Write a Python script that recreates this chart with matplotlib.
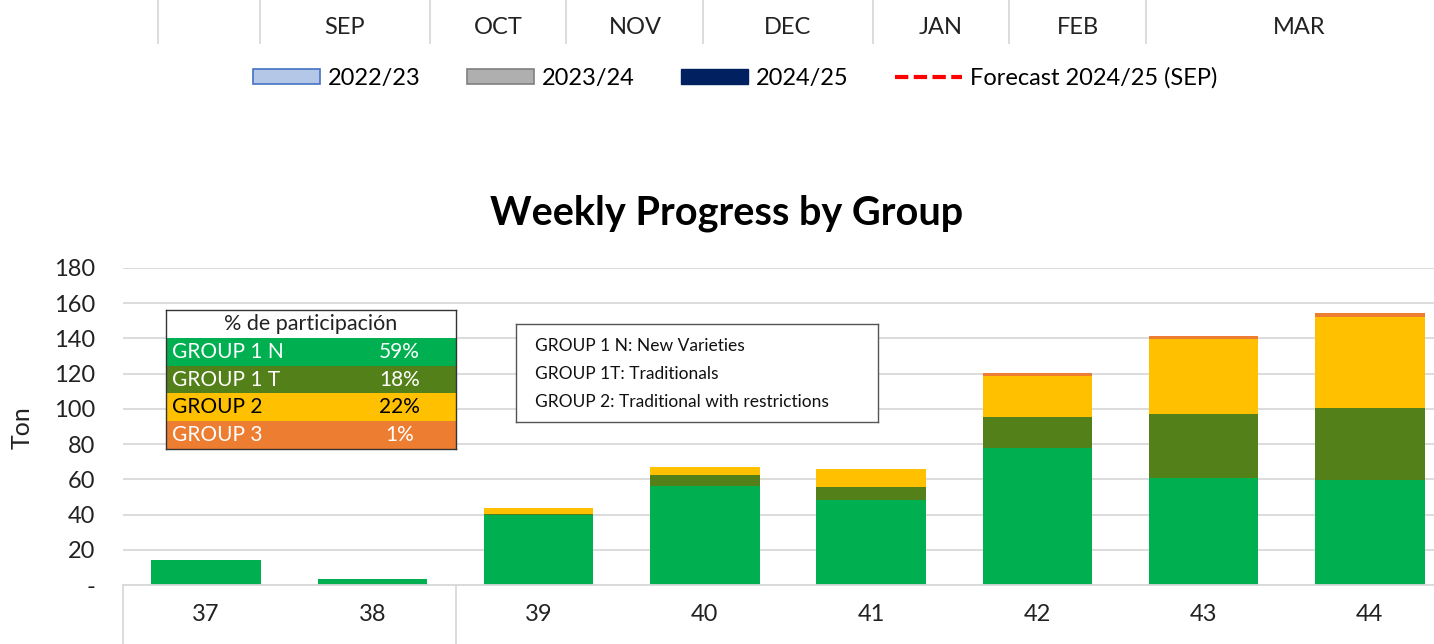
import numpy as np
import matplotlib
matplotlib.use("Agg")
from matplotlib import pyplot as plt
from matplotlib.patches import Patch, Rectangle
from matplotlib.lines import Line2D

plt.rcParams['font.family'] = ['Lato', 'DejaVu Sans']

# weekly tons by group
weeks = ['37', '38', '39', '40', '41', '42', '43', '44']
group_1n = [14, 3.5, 40, 56, 48, 78, 61, 59.5]
group_1t = [0, 0, 0.5, 6.5, 7.5, 17.5, 36, 41]
group_2 = [0, 0, 3.5, 4.5, 10.5, 23, 42.5, 51.5]
group_3 = [0, 0, 0, 0, 0, 1.7, 2, 2.3]

months = ['SEP', 'OCT', 'NOV', 'DEC', 'JAN', 'FEB', 'MAR']
legend_labels = ['2022/23', '2023/24', '2024/25', 'Forecast 2024/25 (SEP)']

share_names = ['GROUP 1 N', 'GROUP 1 T', 'GROUP 2', 'GROUP 3']
share_values = ['59%', '18%', '22%', '1%']

notes = ['GROUP 1 N: New Varieties', 'GROUP 1T: Traditionals',
         'GROUP 2: Traditional with restrictions']

colors = ['#00B050', '#538018', '#FFC000', '#ED7D31']
text_colors = ['white', 'white', 'black', 'white']

W, H = 1434, 644
fig = plt.figure(figsize=(W / 100, H / 100), dpi=100)


def fx(px):
    return px / W


def fy(py):
    return 1 - py / H


# ---- top strip: month header of the chart above (cropped) ----
for xp in [158, 260, 430, 566, 703, 873, 1009, 1146]:
    fig.add_artist(Line2D([fx(xp), fx(xp)], [1, fy(43)], color='#D9D9D9', lw=1.3))
month_x = [345, 498, 635, 788, 941, 1078, 1299]
for m, xp in zip(months, month_x):
    fig.text(fx(xp), fy(27), m, ha='center', va='center', fontsize=17, color='#222222')

handles = [
    Patch(facecolor='#B4C7E7', edgecolor='#4472C4', lw=1.2),
    Patch(facecolor='#AFAFAF', edgecolor='#7F7F7F', lw=1.2),
    Patch(facecolor='#002060', edgecolor='#002060'),
    Line2D([0], [0], color='#FF0000', lw=3, ls=(0, (3.2, 1.3))),
]
fig.legend(handles, legend_labels, loc='center', bbox_to_anchor=(fx(735), fy(78)),
           ncol=4, frameon=False, fontsize=17, handlelength=2.85, handleheight=0.55,
           handletextpad=0.34, columnspacing=1.95)

# ---- main chart ----
fig.text(fx(727), fy(213), 'Weekly Progress by Group', ha='center', va='center',
         fontsize=28.5, fontweight='bold')

ax = fig.add_axes([fx(123), fy(585), fx(1453) - fx(123), fy(268) - fy(585)])
x = np.arange(len(weeks))
bottom = np.zeros(len(weeks))
for vals, c in zip([group_1n, group_1t, group_2, group_3], colors):
    ax.bar(x, vals, bottom=bottom, width=0.66, color=c, zorder=3)
    bottom += np.array(vals)

ax.set_xlim(-0.5, len(weeks) - 0.5)
ax.set_ylim(0, 180)
ax.set_yticks(range(0, 181, 20))
ax.set_yticklabels(['-'] + [str(v) for v in range(20, 181, 20)])
ax.set_xticks(x)
ax.set_xticklabels(weeks)
ax.tick_params(axis='both', length=0, labelsize=17, colors='#222222')
ax.tick_params(axis='y', pad=20)
ax.tick_params(axis='x', pad=14)
ax.grid(axis='y', color='#D9D9D9', lw=1.3, zorder=0)
for s in ['top', 'right', 'left']:
    ax.spines[s].set_visible(False)
ax.spines['bottom'].set_color('#D9D9D9')
ax.spines['bottom'].set_linewidth(1.3)
ax.spines['bottom'].set_zorder(4)

# multi-level category separators
trans = ax.get_xaxis_transform()
for xs in [-0.5, 1.5]:
    ax.add_line(Line2D([xs, xs], [0, -0.3], transform=trans, color='#D9D9D9',
                       lw=1.3, clip_on=False))

fig.text(fx(22), fy(428), 'Ton', rotation=90, ha='center', va='center', fontsize=18,
         color='#222222')

# ---- share table ----
tab = fig.add_axes([fx(166), fy(449), fx(456) - fx(166), fy(310) - fy(449)])
tab.set_xlim(0, 1)
tab.set_ylim(0, 5)
tab.add_patch(Rectangle((0, 4), 1, 1, facecolor='white', edgecolor='none'))
tab.text(0.5, 4.5, '% de participación', ha='center', va='center', fontsize=15.5, color='#222222')
for i, (name, val, c, tc) in enumerate(zip(share_names, share_values, colors, text_colors)):
    yrow = 3 - i
    tab.add_patch(Rectangle((0, yrow), 1, 1, facecolor=c, edgecolor='none'))
    tab.text(0.02, yrow + 0.5, name, ha='left', va='center', fontsize=15, color=tc)
    tab.text(0.805, yrow + 0.5, val, ha='center', va='center', fontsize=15, color=tc)
tab.set_xticks([])
tab.set_yticks([])
for s in tab.spines.values():
    s.set_color('#333333')
    s.set_linewidth(1)

# ---- notes box ----
box = fig.add_axes([fx(516), fy(422), fx(878) - fx(516), fy(324) - fy(422)])
box.set_xticks([])
box.set_yticks([])
for s in box.spines.values():
    s.set_color('#555555')
    s.set_linewidth(1)
for i, t in enumerate(notes):
    fig.text(fx(535), fy(346 + 28 * i), t, ha='left', va='center', fontsize=12.5,
             color='#111111')

fig.savefig('out.png', dpi=100)
